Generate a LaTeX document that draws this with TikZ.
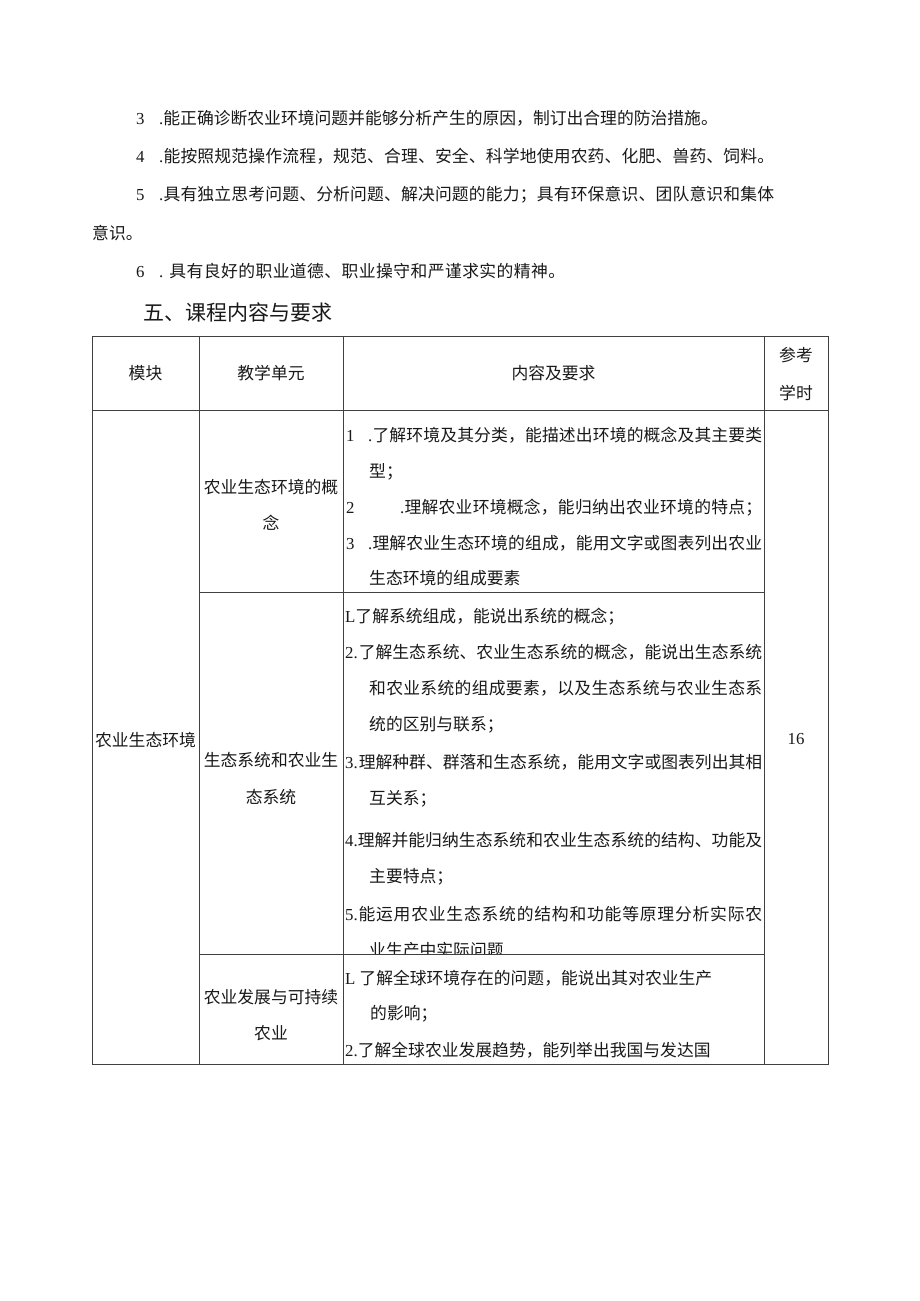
\documentclass[tikz,border=0pt]{standalone}
\usepackage{fontspec}
\setmainfont{Noto Sans CJK SC}
\newfontfamily\cjkf{Noto Sans CJK SC}
\newfontfamily\latf{Liberation Serif}
\newXeTeXintercharclass\cjkcls
\newcount\mycnt
\mycnt="2E80
\loop
  \XeTeXcharclass\mycnt=\cjkcls
  \advance\mycnt by 1
\ifnum\mycnt<"A000 \repeat
\mycnt="FF00
\loop
  \XeTeXcharclass\mycnt=\cjkcls
  \advance\mycnt by 1
\ifnum\mycnt<"FFF0 \repeat
\XeTeXinterchartoks 0 \cjkcls = {\cjkf\hskip0pt plus 1pt\relax}
\XeTeXinterchartoks \cjkcls 0 = {\hskip0pt plus 1pt\relax\latf}
\XeTeXinterchartoks \cjkcls \cjkcls = {\hskip0pt plus 1pt\relax}
\XeTeXinterchartoks 4095 \cjkcls = {\cjkf}
\XeTeXinterchartoks 4095 0 = {\latf}
\newcommand\bodyfs{\fontsize{16.8}{20}\selectfont}
\newcommand\jl[2]{\makebox[#1pt][s]{#2}}
\begin{document}
\begin{tikzpicture}[x=1pt,y=-1pt,
  t/.style={inner sep=0pt, anchor=west, text height=14.8pt, text depth=2pt, font=\bodyfs, text=black!90},
  tc/.style={t, anchor=center},
  rule/.style={line width=0.8pt, draw=black!75}]
\XeTeXinterchartokenstate=1
\useasboundingbox[fill=white] (0,0) rectangle (920,1301);
% body text
\node[t] (n3) at (136,118) {3};
\node[t] (l3) at (159,118) {\jl{558}{.能正确诊断农业环境问题并能够分析产生的原因，制订出合理的防治措施。}};
\node[t] (n4) at (136,156) {4};
\node[t] (l4) at (159,156) {\jl{615}{.能按照规范操作流程，规范、合理、安全、科学地使用农药、化肥、兽药、饲料。}};
\node[t] (n5) at (136,194) {5};
\node[t] (l5) at (159,194) {\jl{615}{.具有独立思考问题、分析问题、解决问题的能力；具有环保意识、团队意识和集体}};
\node[t] (l5b) at (92,233) {意识。};
\node[t] (n6) at (136,271) {6};
\node[t] (l6) at (159,271) {\jl{406}{.\hspace{6pt}具有良好的职业道德、职业操守和严谨求实的精神。}};
\node[t, font=\fontsize{21}{25}\selectfont, text height=18.5pt, text depth=2.5pt] (h5) at (143,312) {五、课程内容与要求};
% header
\node[tc] (hA) at (145.5,373) {模块};
\node[tc] (hB) at (271,373) {教学单元};
\node[tc] (hC) at (553.5,373) {内容及要求};
\node[tc] (hD1) at (796,355) {参考};
\node[tc] (hD2) at (796,393) {学时};
% column 1 and 4
\node[tc] (a1) at (145.5,740) {农业生态环境};
\node[tc] (h16) at (796,738) {16};
% row 1
\node[tc] (b1a) at (271,487) {农业生态环境的概};
\node[tc] (b1b) at (271,523) {念};
\node[t] (c1n) at (346,435) {1};
\node[t] (c1) at (368,435) {\jl{394}{.了解环境及其分类，能描述出环境的概念及其主要类}};
\node[t] (c1b) at (369,471) {型；};
\node[t] (c2n) at (346,507) {2};
\node[t] (c2) at (400,507) {\jl{362}{.理解农业环境概念，能归纳出农业环境的特点；}};
\node[t] (c3n) at (346,543) {3};
\node[t] (c3) at (368,543) {\jl{394}{.理解农业生态环境的组成，能用文字或图表列出农业}};
\node[t] (c3b) at (369,578) {生态环境的组成要素};
% row 2
\node[tc] (b2a) at (271,760) {生态系统和农业生};
\node[tc] (b2b) at (271,797) {态系统};
\node[t] (d1) at (345,616) {L了解系统组成，能说出系统的概念；};
\node[t] (d2) at (345,652) {\jl{417}{2.\hspace{1pt}了解生态系统、农业生态系统的概念，能说出生态系统}};
\node[t] (d2b) at (369,688) {\jl{393}{和农业系统的组成要素，以及生态系统与农业生态系}};
\node[t] (d2c) at (369,724) {统的区别与联系；};
\node[t] (d3) at (345,762) {\jl{417}{3.\hspace{1pt}理解种群、群落和生态系统，能用文字或图表列出其相}};
\node[t] (d3b) at (369,798) {互关系；};
\node[t] (d4) at (345,840) {\jl{417}{4.理解并能归纳生态系统和农业生态系统的结构、功能及}};
\node[t] (d4b) at (369,876) {主要特点；};
\node[t] (d5) at (345,914) {\jl{417}{5.能运用农业生态系统的结构和功能等原理分析实际农}};
\begin{scope}
\clip (343,925) rectangle (764,953.5);
\node[t] (d5b) at (369,950) {业生产中实际问题};
\end{scope}
% row 3
\node[tc] (b3a) at (271,997) {农业发展与可持续};
\node[tc] (b3b) at (271,1033) {农业};
\node[t] (e1) at (345,978) {\jl{365}{L\hspace{4pt}了解全球环境存在的问题，能说出其对农业生产}};
\node[t] (e1b) at (370,1013) {的影响；};
\node[t] (e2) at (345,1050) {2.了解全球农业发展趋势，能列举出我国与发达国};
% table rules
\draw[rule] (92,336) rectangle (828,1064);
\draw[rule] (199,336) -- (199,1064);
\draw[rule] (343,336) -- (343,1064);
\draw[rule] (764,336) -- (764,1064);
\draw[rule] (92,410) -- (828,410);
\draw[rule] (199,592) -- (764,592);
\draw[rule] (199,954) -- (764,954);
\end{tikzpicture}
\end{document}
